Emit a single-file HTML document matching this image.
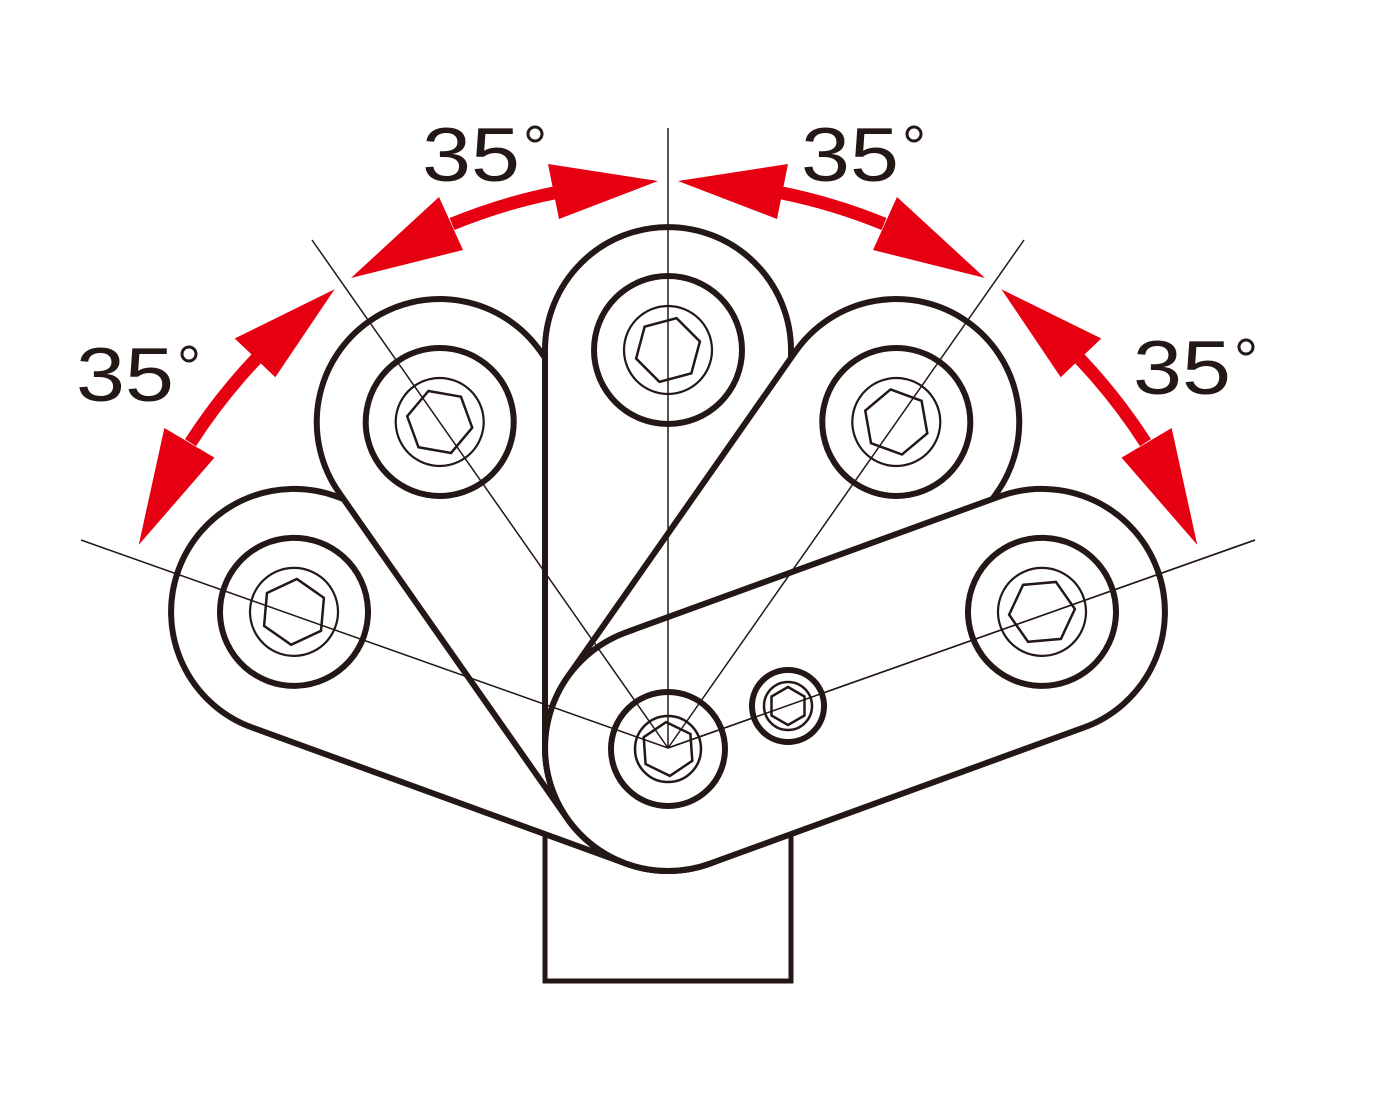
<!DOCTYPE html>
<html><head><meta charset="utf-8"><style>html,body{margin:0;padding:0;background:#fff}svg{display:block}</style></head>
<body>
<svg width="1378" height="1102" viewBox="0 0 1378 1102" xmlns="http://www.w3.org/2000/svg">
<defs>
<g id="arm">
<path d="M545,350 A123,123 0 0 1 791,350 L791,748 A123,123 0 0 1 545,748 Z" fill="#fff" stroke="#231815" stroke-width="6"/>
<circle cx="668" cy="350" r="74" fill="#fff" stroke="#231815" stroke-width="6"/>
<circle cx="668" cy="350" r="44" fill="none" stroke="#231815" stroke-width="2.2"/>
<polygon points="668,317 696.6,333.5 696.6,366.5 668,383 639.4,366.5 639.4,333.5" fill="none" stroke="#231815" stroke-width="2.5" transform="rotate(15 668 350)"/>
</g>
<g id="arr" fill="#e60012">
<path d="M782,193 A567,567 0 0 1 884,224" fill="none" stroke="#e60012" stroke-width="13"/>
<polygon points="678,181 788,164 777,219"/>
<polygon points="985,278 897,197 873,250"/>
</g>
</defs>
<rect x="545" y="780" width="246" height="201" fill="#fff" stroke="#231815" stroke-width="5"/>
<use href="#arm" transform="rotate(-70 668 748)"/>
<use href="#arm" transform="rotate(-35 668 748)"/>
<use href="#arm"/>
<use href="#arm" transform="rotate(35 668 748)"/>
<use href="#arm" transform="rotate(70 668 748)"/>
<g stroke="#231815" stroke-width="1.5">
<line x1="668" y1="748" x2="668" y2="128"/>
<line x1="668" y1="748" x2="312" y2="240"/>
<line x1="668" y1="748" x2="1024" y2="240"/>
<line x1="668" y1="748" x2="81" y2="540"/>
<line x1="668" y1="748" x2="1255" y2="540"/>
</g>
<circle cx="668" cy="749" r="57" fill="none" stroke="#231815" stroke-width="6"/>
<circle cx="668" cy="749" r="33" fill="none" stroke="#231815" stroke-width="2.5"/>
<polygon points="668,722 691.4,735.5 691.4,762.5 668,776 644.6,762.5 644.6,735.5" fill="none" stroke="#231815" stroke-width="2.5" transform="rotate(-4 668 749)"/>
<circle cx="788" cy="706" r="36" fill="#fff" stroke="#231815" stroke-width="6"/>
<circle cx="788" cy="706" r="24" fill="none" stroke="#231815" stroke-width="2.5"/>
<polygon points="788,687 804.5,696.5 804.5,715.5 788,725 771.5,715.5 771.5,696.5" fill="none" stroke="#231815" stroke-width="2.5"/>
<line x1="668" y1="748" x2="1255" y2="540" stroke="#231815" stroke-width="1.5"/>
<use href="#arr"/>
<use href="#arr" transform="rotate(35 668 748)"/>
<use href="#arr" transform="translate(1336 0) scale(-1 1)"/>
<use href="#arr" transform="translate(1336 0) scale(-1 1) rotate(35 668 748)"/>
<g fill="#231815" font-family="Liberation Sans, sans-serif" font-size="76">
<text x="422" y="181" textLength="98" lengthAdjust="spacingAndGlyphs">35</text>
<text x="801" y="181" textLength="98" lengthAdjust="spacingAndGlyphs">35</text>
<text x="76" y="401" textLength="98" lengthAdjust="spacingAndGlyphs">35</text>
<text x="1133" y="394" textLength="98" lengthAdjust="spacingAndGlyphs">35</text>
</g>
<g fill="none" stroke="#231815" stroke-width="3">
<circle cx="535" cy="134" r="7"/>
<circle cx="914" cy="134" r="7"/>
<circle cx="189" cy="354" r="7"/>
<circle cx="1246" cy="347" r="7"/>
</g>
</svg>
</body></html>
